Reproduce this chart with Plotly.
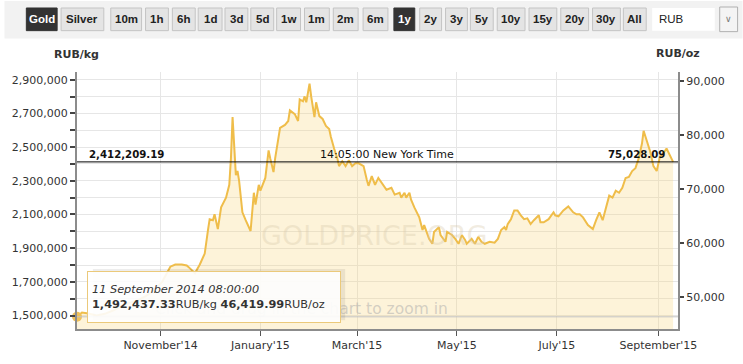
import plotly.graph_objects as go

# ---------------- data ----------------
dates = [
    "2014-09-11", "2014-09-14", "2014-09-18", "2014-09-23", "2014-09-28",
    "2014-10-03", "2014-10-08", "2014-10-13", "2014-10-18", "2014-10-23", "2014-10-28",
    "2014-11-02", "2014-11-07", "2014-11-10",
    "2014-11-14", "2014-11-17", "2014-11-19", "2014-11-22", "2014-11-25", "2014-11-28", "2014-11-30",
    "2014-12-01", "2014-12-03", "2014-12-04", "2014-12-06", "2014-12-08", "2014-12-11", "2014-12-13",
    "2014-12-14", "2014-12-15", "2014-12-17", "2014-12-18", "2014-12-19", "2014-12-21", "2014-12-23",
    "2014-12-26", "2014-12-28", "2014-12-29", "2014-12-31",
    "2015-01-01", "2015-01-04", "2015-01-06", "2015-01-07", "2015-01-09", "2015-01-10", "2015-01-13",
    "2015-01-16", "2015-01-18", "2015-01-19", "2015-01-22", "2015-01-24", "2015-01-25", "2015-01-27",
    "2015-01-28", "2015-01-29", "2015-01-31",
    "2015-02-01", "2015-02-03", "2015-02-04", "2015-02-06", "2015-02-08", "2015-02-10", "2015-02-12",
    "2015-02-13", "2015-02-15", "2015-02-17", "2015-02-18", "2015-02-20", "2015-02-22", "2015-02-24",
    "2015-02-26", "2015-02-28",
    "2015-03-02", "2015-03-05", "2015-03-07", "2015-03-08", "2015-03-10", "2015-03-12", "2015-03-14",
    "2015-03-17", "2015-03-19", "2015-03-22", "2015-03-24", "2015-03-27", "2015-03-28", "2015-03-30",
    "2015-03-31",
    "2015-04-02", "2015-04-03", "2015-04-05", "2015-04-08", "2015-04-10", "2015-04-11", "2015-04-14",
    "2015-04-16", "2015-04-17", "2015-04-20", "2015-04-21", "2015-04-24", "2015-04-25", "2015-04-28",
    "2015-04-30",
    "2015-05-02", "2015-05-04", "2015-05-06", "2015-05-07", "2015-05-10", "2015-05-12", "2015-05-14",
    "2015-05-16", "2015-05-18", "2015-05-21", "2015-05-24", "2015-05-26", "2015-05-28", "2015-05-30",
    "2015-05-31",
    "2015-06-01", "2015-06-03", "2015-06-05", "2015-06-07", "2015-06-09", "2015-06-11", "2015-06-13",
    "2015-06-15", "2015-06-17", "2015-06-20", "2015-06-21", "2015-06-23", "2015-06-26", "2015-06-29",
    "2015-06-30",
    "2015-07-02", "2015-07-05", "2015-07-07", "2015-07-08", "2015-07-11", "2015-07-13", "2015-07-15",
    "2015-07-17", "2015-07-20", "2015-07-23", "2015-07-25", "2015-07-27", "2015-07-29", "2015-07-31",
    "2015-08-02", "2015-08-04", "2015-08-06", "2015-08-08", "2015-08-10", "2015-08-12", "2015-08-14",
    "2015-08-16", "2015-08-18", "2015-08-20", "2015-08-22", "2015-08-23", "2015-08-25", "2015-08-27",
    "2015-08-29", "2015-08-31",
    "2015-09-02", "2015-09-04", "2015-09-06", "2015-09-08", "2015-09-10",
]

rub_per_kg = [
    1492437.33, 1518000, 1512000, 1500000, 1510000,
    1530000, 1555000, 1575000, 1590000, 1615000, 1650000,
    1700000, 1790000, 1803000,
    1803000, 1797000, 1780000, 1751000, 1803000, 1868000, 2008000,
    2072000, 2066000, 2101000, 2013000, 2142000, 2200000, 2276000,
    2433000, 2678000, 2334000, 2358000, 2299000, 2113000, 2066000,
    2002000, 2229000, 2159000, 2276000,
    2241000, 2317000, 2480000, 2433000, 2352000, 2433000, 2614000,
    2632000, 2655000, 2719000, 2696000, 2655000, 2783000, 2772000,
    2801000, 2766000, 2877000,
    2801000, 2678000, 2766000, 2684000, 2667000, 2626000, 2608000,
    2562000, 2492000, 2433000, 2387000, 2416000, 2387000, 2422000,
    2387000, 2404000,
    2404000, 2387000, 2305000, 2270000, 2328000, 2276000, 2317000,
    2270000, 2247000, 2258000, 2218000, 2229000, 2200000, 2229000,
    2200000,
    2229000, 2188000, 2142000, 2083000, 2008000, 2037000, 1955000,
    1926000, 1996000, 2025000, 1978000, 1938000, 1996000, 1978000,
    1955000,
    1926000, 1978000, 1949000, 1926000, 1955000, 1926000, 1967000,
    1938000, 1926000, 1938000, 1932000, 1955000, 2008000, 2025000,
    2008000,
    2043000, 2072000, 2124000, 2124000, 2095000, 2072000, 2077000,
    2043000, 2066000, 2095000, 2054000, 2054000, 2072000, 2113000,
    2095000,
    2089000, 2124000, 2142000, 2148000, 2113000, 2101000, 2101000,
    2083000, 2037000, 2013000, 2066000, 2113000, 2066000, 2142000,
    2212000, 2200000, 2241000, 2229000, 2258000, 2317000, 2323000,
    2358000, 2375000, 2433000, 2521000, 2597000, 2538000, 2474000,
    2387000, 2358000,
    2445000, 2463000, 2492000, 2451000, 2412209.19,
]

month_ticks = ["2014-11-01", "2015-01-01", "2015-03-01", "2015-05-01", "2015-07-01", "2015-09-01"]
month_labels = ["November'14", "January'15", "March'15", "May'15", "July'15", "September'15"]

buttons = ["Gold", "Silver", "10m", "1h", "6h", "1d", "3d", "5d", "1w", "1m", "2m", "6m",
           "1y", "2y", "3y", "5y", "10y", "15y", "20y", "30y", "All"]
selected_buttons = ["Gold", "1y"]
currency = "RUB"
price_time = "14:05:00 New York Time"
hover_label = "11 September 2014 08:00:00"

# ---------------- layout helpers ----------------
W, H = 743, 364
L, R, T, B = 73, 678, 72, 333
OZ_PER_KG = 32.1507466
y_range = [1420000, 2946000]


def px(x):
    return (x - L) / (R - L)


def py(y):
    return (B - y) / (B - T)


FONT = "DejaVu Sans"
LINE = "#efbd4a"

fig = go.Figure()

fig.add_trace(go.Scatter(
    x=dates, y=rub_per_kg, mode="lines",
    line=dict(color=LINE, width=2),
    fill="tozeroy", fillcolor="rgba(248,214,130,0.30)",
    hoverinfo="skip", showlegend=False,
))
fig.add_trace(go.Scatter(
    x=dates, y=[v / OZ_PER_KG for v in rub_per_kg], yaxis="y2",
    mode="lines", line=dict(width=0, color="rgba(0,0,0,0)"),
    hoverinfo="skip", showlegend=False,
))
fig.add_trace(go.Scatter(
    x=[dates[0]], y=[rub_per_kg[0]], mode="markers",
    marker=dict(size=10, color="#f0c15a", line=dict(width=0)),
    cliponaxis=False, hoverinfo="skip", showlegend=False,
))

shapes = []
annotations = []

# toolbar band
shapes.append(dict(type="rect", xref="paper", yref="paper", x0=px(0), x1=px(W), y0=py(38), y1=py(0),
                   fillcolor="#f2f2f2", line=dict(width=0), layer="below"))

btn_x = [(22, 53), (57, 100), (107, 138), (142, 165), (169, 192), (195, 219), (222, 245), (248, 271),
         (274, 298), (302, 327), (331, 356), (361, 386), (392, 413), (418, 440), (444, 466), (469, 492),
         (496, 524), (528, 556), (560, 588), (592, 620), (623, 646)]
for name, (x0, x1) in zip(buttons, btn_x):
    sel = name in selected_buttons
    shapes.append(dict(type="rect", xref="paper", yref="paper", x0=px(x0), x1=px(x1), y0=py(30), y1=py(7),
                       fillcolor="#333333" if sel else "#e4e4e4",
                       line=dict(color="#333333" if sel else "#c4c4c4", width=1), layer="below"))
    annotations.append(dict(xref="paper", yref="paper", x=px((x0 + x1) / 2), y=py(18.5), text=name,
                            showarrow=False, xanchor="center", yanchor="middle",
                            font=dict(family="Liberation Sans", size=11.5,
                                      color="#ffffff" if sel else "#222222", weight="bold")))
# currency box + dropdown
shapes.append(dict(type="rect", xref="paper", yref="paper", x0=px(652), x1=px(715), y0=py(30), y1=py(7),
                   fillcolor="#ffffff", line=dict(width=0), layer="below"))
shapes.append(dict(type="rect", xref="paper", yref="paper", x0=px(720), x1=px(738), y0=py(31), y1=py(6),
                   fillcolor="#f4f4f4", line=dict(color="#b0b0b0", width=1), layer="below"))
annotations.append(dict(xref="paper", yref="paper", x=px(657), y=py(18.5), text=currency, showarrow=False,
                        xanchor="left", yanchor="middle", font=dict(family="Liberation Sans", size=11.5, color="#222")))
annotations.append(dict(xref="paper", yref="paper", x=px(729), y=py(18), text="∨", showarrow=False,
                        xanchor="center", yanchor="middle", font=dict(family=FONT, size=9, color="#777")))

# axis titles
annotations.append(dict(xref="paper", yref="paper", x=px(72), y=py(54), text="<b>RUB/kg</b>", showarrow=False,
                        xanchor="center", yanchor="middle", font=dict(family=FONT, size=11, color="#333")))
annotations.append(dict(xref="paper", yref="paper", x=px(678), y=py(53), text="<b>RUB/oz</b>", showarrow=False,
                        xanchor="center", yanchor="middle", font=dict(family=FONT, size=11, color="#333")))

# watermark texts
annotations.append(dict(xref="paper", yref="paper", x=px(372), y=py(238), text="GOLDPRICE.ORG", showarrow=False,
                        xanchor="center", yanchor="middle",
                        font=dict(family=FONT, size=27, color="rgba(215,200,170,0.35)")))
annotations.append(dict(xref="paper", yref="paper", x=px(448), y=py(313), text="Click and drag in the chart to zoom in",
                        showarrow=False, xanchor="right", yanchor="middle",
                        font=dict(family=FONT, size=15.5, color="rgba(170,170,170,0.5)")))

# crosshair at hovered point
shapes.append(dict(type="line", xref="paper", yref="y", x0=0, x1=1, y0=rub_per_kg[0], y1=rub_per_kg[0],
                   line=dict(color="#c4c4c4", width=1), layer="above"))

# current price line
last = rub_per_kg[-1]
shapes.append(dict(type="line", xref="paper", yref="y", x0=0, x1=1, y0=last, y1=last,
                   line=dict(color="#000000", width=1), layer="above"))
annotations.append(dict(xref="paper", yref="y", x=px(83), y=last, yshift=7, text=f"<b>{last:,.2f}</b>",
                        showarrow=False, xanchor="left", yanchor="middle",
                        font=dict(family=FONT, size=10.2, color="#111")))
annotations.append(dict(xref="paper", yref="y", x=px(385), y=last, yshift=7, text=price_time,
                        showarrow=False, xanchor="center", yanchor="middle",
                        font=dict(family=FONT, size=11, color="#111")))
annotations.append(dict(xref="paper", yref="y", x=px(667), y=last, yshift=7, text=f"<b>{last / OZ_PER_KG:,.2f}</b>",
                        showarrow=False, xanchor="right", yanchor="middle",
                        font=dict(family=FONT, size=10.2, color="#111")))

# tooltip (shadow shape + annotation box drawn above the watermark text)
shapes.append(dict(type="rect", xref="paper", yref="paper", x0=px(89), x1=px(343), y0=py(324), y1=py(272),
                   fillcolor="rgba(0,0,0,0.07)", line=dict(width=0), layer="above"))
tip_text = (f"<i>{hover_label}</i><br>"
            f"<b>{rub_per_kg[0]:,.2f}</b>RUB/kg <b>{rub_per_kg[0] / OZ_PER_KG:,.2f}</b>RUB/oz")
annotations.append(dict(xref="paper", yref="paper", x=px(83), y=py(274), text=tip_text,
                        showarrow=False, xanchor="left", yanchor="top", align="left", valign="middle",
                        width=244, height=42, borderpad=4,
                        bgcolor="rgba(255,255,255,0.9)", bordercolor="#ebc97a", borderwidth=1,
                        font=dict(family=FONT, size=11.3, color="#333")))

axis_font = dict(family=FONT, size=11, color="#333")
fig.update_layout(
    width=W, height=H,
    margin=dict(l=L, r=W - R, t=T, b=H - B, pad=0),
    paper_bgcolor="#ffffff", plot_bgcolor="#ffffff",
    showlegend=False,
    font=dict(family=FONT),
    xaxis=dict(type="date", range=["2014-09-11", "2015-09-13"],
               tickmode="array", tickvals=month_ticks, ticktext=month_labels,
               ticks="outside", ticklen=5, tickcolor="#555", tickwidth=1,
               showline=True, linecolor="#8c8c8c", linewidth=2,
               showgrid=True, gridcolor="#e6e6e6", gridwidth=1,
               zeroline=False, tickfont=axis_font),
    yaxis=dict(range=y_range, tick0=1500000, dtick=200000, tickformat=",d",
               ticks="outside", ticklen=5, tickcolor="#444", tickwidth=1.5,
               showline=True, linecolor="#8c8c8c", linewidth=2,
               showgrid=True, gridcolor="#e6e6e6", gridwidth=1, zeroline=False,
               minor=dict(tick0=1500000, dtick=100000, ticks="outside", ticklen=5, tickcolor="#444",
                          tickwidth=1.5, showgrid=True, gridcolor="#e6e6e6", gridwidth=1),
               tickfont=axis_font),
    yaxis2=dict(overlaying="y", side="right", range=[v / OZ_PER_KG for v in y_range],
                tick0=50000, dtick=10000, tickformat=",d",
                ticks="outside", ticklen=4, tickcolor="#444", tickwidth=1.5,
                showline=True, linecolor="#8c8c8c", linewidth=2,
                showgrid=False, zeroline=False, tickfont=axis_font),
    shapes=shapes,
    annotations=annotations,
)

fig.write_html("out.html",
               config={"displayModeBar": False},
               post_script="document.body.style.margin='0px';document.body.style.overflow='hidden';")
